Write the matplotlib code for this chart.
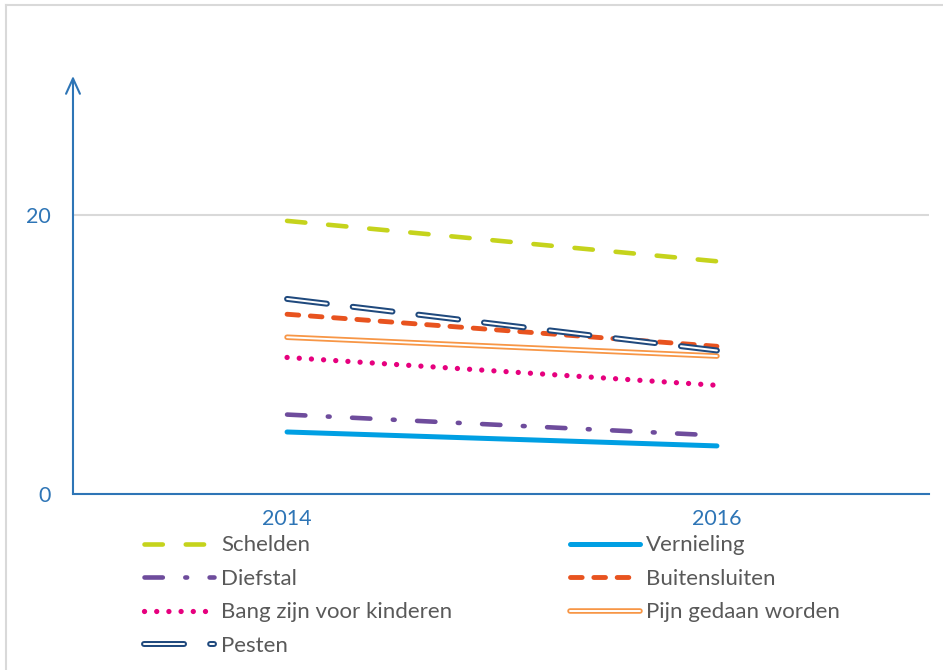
import matplotlib.pyplot as plt
import matplotlib.patheffects as pe
from matplotlib.lines import Line2D

plt.rcParams['font.family'] = ['Lato', 'DejaVu Sans']

years = ['2014', '2016']
schelden = [19.6, 16.7]
vernieling = [4.45, 3.45]
diefstal = [5.7, 4.2]
buitensluiten = [12.9, 10.6]
bang = [9.8, 7.8]
pijn = [11.25, 9.9]
pesten = [14.0, 10.3]

axis_blue = '#2e75b6'
text_grey = '#595959'

fig = plt.figure(figsize=(9.43, 6.7), dpi=100)
# light frame round the chart area
fig.add_artist(Line2D([0.0064, 0.0064], [0, 0.993], color='#d9d9d9', lw=1.5))
fig.add_artist(Line2D([0.0064, 1], [0.993, 0.993], color='#d9d9d9', lw=1.5))

ax = fig.add_axes([0.0774, 0.2627, 0.9076, 0.6239])
x = [0, 1]

ax.plot(x, schelden, color='#c5d31c', lw=3.3, dash_capstyle='round',
        dashes=(4.0, 5.0), label='Schelden')
ax.plot(x, vernieling, color='#009fe3', lw=3.6, solid_capstyle='round',
        label='Vernieling')
ax.plot(x, diefstal, color='#6e4c9c', lw=3.3, dash_capstyle='round',
        dashes=(4.0, 4.9, 0.4, 4.9), label='Diefstal')
ax.plot(x, buitensluiten, color='#e8531f', lw=3.5, dash_capstyle='round',
        dashes=(2.4, 2.4), label='Buitensluiten')
ax.plot(x, bang, color='#e6007e', lw=3.8, dash_capstyle='round',
        dashes=(0.01, 2.3), label='Bang zijn voor kinderen')
# double lines: coloured stroke with a white core
ax.plot(x, pijn, color='white', lw=1.4, solid_capstyle='round',
        path_effects=[pe.Stroke(linewidth=4.0, foreground='#f79646'), pe.Normal()],
        label='Pijn gedaan worden')
ax.plot(x, pesten, color='white', lw=1.4, dash_capstyle='round',
        dashes=(20.6, 13.4),
        path_effects=[pe.Stroke(linewidth=4.3, foreground='#1f497d'), pe.Normal()],
        label='Pesten')

ax.set_xlim(-0.498, 1.493)
ax.set_ylim(0, 30)
ax.set_xticks(x)
ax.set_xticklabels(years)
ax.set_yticks([0, 20])
ax.yaxis.grid(True, color='#d9d9d9', lw=1.5)
ax.set_axisbelow(True)
ax.tick_params(length=0, labelsize=15.5, labelcolor=axis_blue)
ax.tick_params(axis='y', pad=16)
ax.tick_params(axis='x', pad=11)
for s in ['top', 'right']:
    ax.spines[s].set_visible(False)
ax.spines['bottom'].set_color(axis_blue)
ax.spines['bottom'].set_linewidth(1.5)
ax.spines['left'].set_visible(False)
ax.annotate('', xy=(0, 1.0), xytext=(0, 0), xycoords='axes fraction',
            arrowprops=dict(arrowstyle='->,head_length=1.1,head_width=0.5',
                            color=axis_blue, lw=1.5, shrinkA=0, shrinkB=0))

handles, labels = ax.get_legend_handles_labels()
order1 = [0, 2, 4, 6]
order2 = [1, 3, 5]
leg_kw = dict(frameon=False, fontsize=16, handlelength=3.15, handletextpad=0.3,
              labelspacing=0.61, labelcolor=text_grey, borderpad=0, borderaxespad=0)
leg1 = fig.legend([handles[i] for i in order1], [labels[i] for i in order1],
                  loc='upper left', bbox_to_anchor=(0.153, 0.201), **leg_kw)
leg2 = fig.legend([handles[i] for i in order2], [labels[i] for i in order2],
                  loc='upper left', bbox_to_anchor=(0.604, 0.201), **leg_kw)

fig.savefig('out.png', dpi=100)
